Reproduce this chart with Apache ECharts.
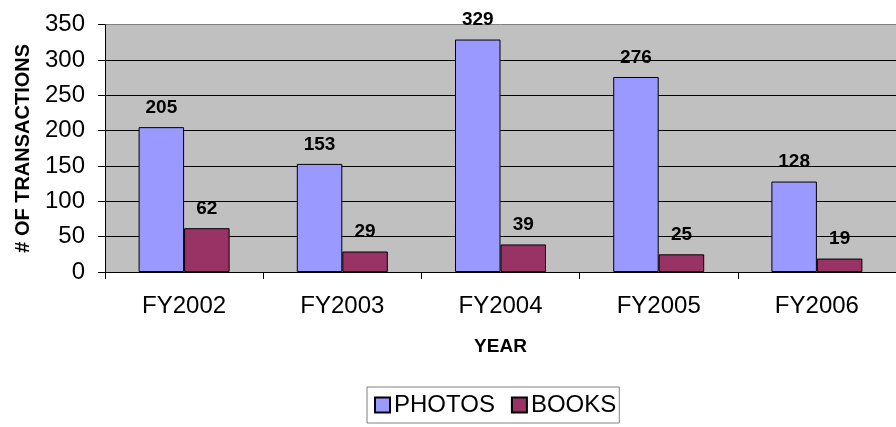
<!DOCTYPE html>
<html>
<head>
<meta charset="utf-8">
<script src="https://cdn.jsdelivr.net/npm/echarts@6/dist/echarts.min.js"></script>
<style>
    html, body { margin: 0; padding: 0; background: #fff; }
    #chart { width: 896px; height: 427px; }
</style>
</head>
<body>
<div id="chart"></div>
<script>
    var years = ['FY2002', 'FY2003', 'FY2004', 'FY2005', 'FY2006'];
    var photos = [205, 153, 329, 276, 128];
    var books = [62, 29, 39, 25, 19];
    var yTicks = [0, 50, 100, 150, 200, 250, 300, 350];

    var font = '"Liberation Sans", Arial, sans-serif';

    var myChart = echarts.init(document.getElementById('chart'));

    function barSeries(name, data, color) {
        return {
            name: name,
            type: 'bar',
            data: data,
            barWidth: 45.5,
            barGap: '0%',
            itemStyle: {
                color: color,
                borderColor: '#000',
                borderWidth: 1
            },
            label: {
                show: true,
                position: 'top',
                distance: 10,
                color: '#000',
                fontSize: 19,
                fontWeight: 'bold',
                fontFamily: font
            }
        };
    }

    var option = {
        backgroundColor: '#fff',
        animation: false,
        grid: {
            left: 105,
            right: -4,
            top: 24.7,
            bottom: 155,
            show: true,
            backgroundColor: '#C0C0C0',
            borderWidth: 0
        },
        legend: {
            data: ['PHOTOS', 'BOOKS'],
            left: 367,
            top: 387,
            orient: 'horizontal',
            padding: [6, 3, 6, 7],
            itemGap: 16,
            itemWidth: 15,
            itemHeight: 15,
            icon: 'rect',
            borderColor: '#808080',
            borderWidth: 1,
            textStyle: {
                fontSize: 24,
                color: '#000',
                fontFamily: font,
                padding: [0, 0, 0, -1]
            }
        },
        xAxis: {
            type: 'category',
            data: years,
            name: 'YEAR',
            nameLocation: 'middle',
            nameGap: 65,
            nameTextStyle: {
                fontSize: 19,
                fontWeight: 'bold',
                color: '#000',
                fontFamily: font
            },
            axisLine: { lineStyle: { color: '#000', width: 1 } },
            axisTick: { show: true, length: 7, lineStyle: { color: '#000' } },
            axisLabel: {
                margin: 22,
                fontSize: 24,
                color: '#000',
                fontFamily: font
            },
            splitLine: { show: false }
        },
        yAxis: {
            type: 'value',
            min: yTicks[0],
            max: yTicks[yTicks.length - 1],
            interval: 50,
            name: '# OF TRANSACTIONS',
            nameLocation: 'middle',
            nameRotate: 90,
            nameGap: 72,
            nameTextStyle: {
                fontSize: 20,
                fontWeight: 'bold',
                color: '#000',
                fontFamily: font
            },
            axisLine: { show: true, lineStyle: { color: '#000', width: 1 } },
            axisTick: { show: true, length: 7, lineStyle: { color: '#000' } },
            axisLabel: {
                margin: 20,
                fontSize: 24,
                color: '#000',
                fontFamily: font
            },
            splitLine: {
                show: true,
                lineStyle: {
                    color: ['#000', '#000', '#000', '#000', '#000', '#000', '#000', '#808080'],
                    width: 1
                }
            }
        },
        series: [
            barSeries('PHOTOS', photos, '#9999FF'),
            barSeries('BOOKS', books, '#993366')
        ]
    };

    myChart.setOption(option);
</script>
</body>
</html>
